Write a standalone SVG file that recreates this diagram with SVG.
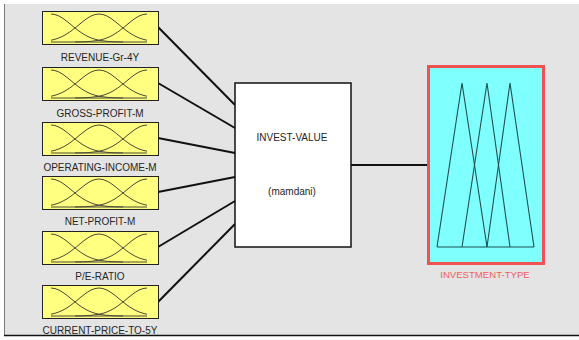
<svg xmlns="http://www.w3.org/2000/svg" xmlns:xlink="http://www.w3.org/1999/xlink" width="579" height="340" viewBox="0 0 579 340">
<style>
.in rect{fill:#ffff80;stroke:#222;stroke-width:1}
.mf{fill:none;stroke:#4a4a38;stroke-width:1}
.lbl{font-family:"Liberation Sans",Arial,sans-serif;font-size:10px;fill:#262626;text-anchor:middle}
.conn line{stroke:#111;stroke-width:2}
</style>
<defs>
<g id="mfs">
<polyline class="mf" points="9,3 13,3.54 17,5.07 21,7.45 25,10.42 29,13.69 33,16.99 37,20.08 41,22.82 45,25.09 49,26.91 53,28.26 57,29.24 65,30.35 73,30.8 81,30.95"/>
<polyline class="mf" points="9,29.24 13,28.26 17,26.91 21,25.09 25,22.82 29,20.08 33,16.99 37,13.69 41,10.42 45,7.45 49,5.07 53,3.54 57,3 61,3.54 65,5.07 69,7.45 73,10.42 77,13.69 81,16.99 85,20.08 89,22.82 93,25.09 97,26.91 101,28.26 105,29.24"/>
<polyline class="mf" points="105,3 101,3.54 97,5.07 93,7.45 89,10.42 85,13.69 81,16.99 77,20.08 73,22.82 69,25.09 65,26.91 61,28.26 57,29.24 49,30.35 41,30.8 33,30.95"/>
<line class="mf" x1="9" y1="31" x2="105" y2="31"/>
</g>
</defs>
<rect x="0" y="0" width="579" height="340" fill="#ffffff"/>
<rect x="4" y="4" width="575" height="332" fill="#e4e4e4"/>
<line x1="4.5" y1="4" x2="4.5" y2="336" stroke="#7a7a7a" stroke-width="1"/>
<line x1="4" y1="335.5" x2="579" y2="335.5" stroke="#111" stroke-width="1.5"/>

<g class="conn" id="connectors">
<line x1="158" y1="27" x2="235" y2="105"/>
<line x1="158" y1="83" x2="235" y2="128"/>
<line x1="158" y1="138" x2="235" y2="153"/>
<line x1="158" y1="192" x2="235" y2="177"/>
<line x1="158" y1="247" x2="235" y2="201"/>
<line x1="158" y1="302" x2="235" y2="224"/>
<line x1="351" y1="165" x2="429" y2="165"/>
</g>

<g class="in" id="in1"><rect x="42.5" y="11.5" width="116" height="33"/><use xlink:href="#mfs" x="42" y="11"/><text class="lbl" x="100" y="61">REVENUE-Gr-4Y</text></g>
<g class="in" id="in2"><rect x="42.5" y="67.5" width="116" height="33"/><use xlink:href="#mfs" x="42" y="67"/><text class="lbl" x="100" y="117">GROSS-PROFIT-M</text></g>
<g class="in" id="in3"><rect x="42.5" y="122.5" width="116" height="33"/><use xlink:href="#mfs" x="42" y="122"/><text class="lbl" x="100" y="171">OPERATING-INCOME-M</text></g>
<g class="in" id="in4"><rect x="42.5" y="176.5" width="116" height="33"/><use xlink:href="#mfs" x="42" y="176"/><text class="lbl" x="100" y="225">NET-PROFIT-M</text></g>
<g class="in" id="in5"><rect x="42.5" y="231.5" width="116" height="33"/><use xlink:href="#mfs" x="42" y="231"/><text class="lbl" x="100" y="280">P/E-RATIO</text></g>
<g class="in" id="in6"><rect x="42.5" y="285.5" width="116" height="33"/><use xlink:href="#mfs" x="42" y="285"/><text class="lbl" x="100" y="334">CURRENT-PRICE-TO-5Y</text></g>

<g id="system">
<rect x="235" y="83" width="116" height="164" fill="#ffffff" stroke="#111" stroke-width="1.5"/>
<text class="lbl" x="292" y="141">INVEST-VALUE</text>
<text class="lbl" x="292" y="195">(mamdani)</text>
</g>

<g id="output">
<rect x="428.5" y="66.5" width="115" height="197" fill="#80ffff" stroke="#f05252" stroke-width="3"/>
<g fill="none" stroke="#1f4f4f" stroke-width="1.1">
<polyline points="437,247 462,83 487,247"/>
<polyline points="462,247 487,83 510,247"/>
<polyline points="487,247 510,83 534,247"/>
<line x1="437" y1="247" x2="534" y2="247"/>
</g>
<text class="lbl" x="485" y="278" style="fill:#f06060;font-size:9.6px">INVESTMENT-TYPE</text>
</g>
</svg>
